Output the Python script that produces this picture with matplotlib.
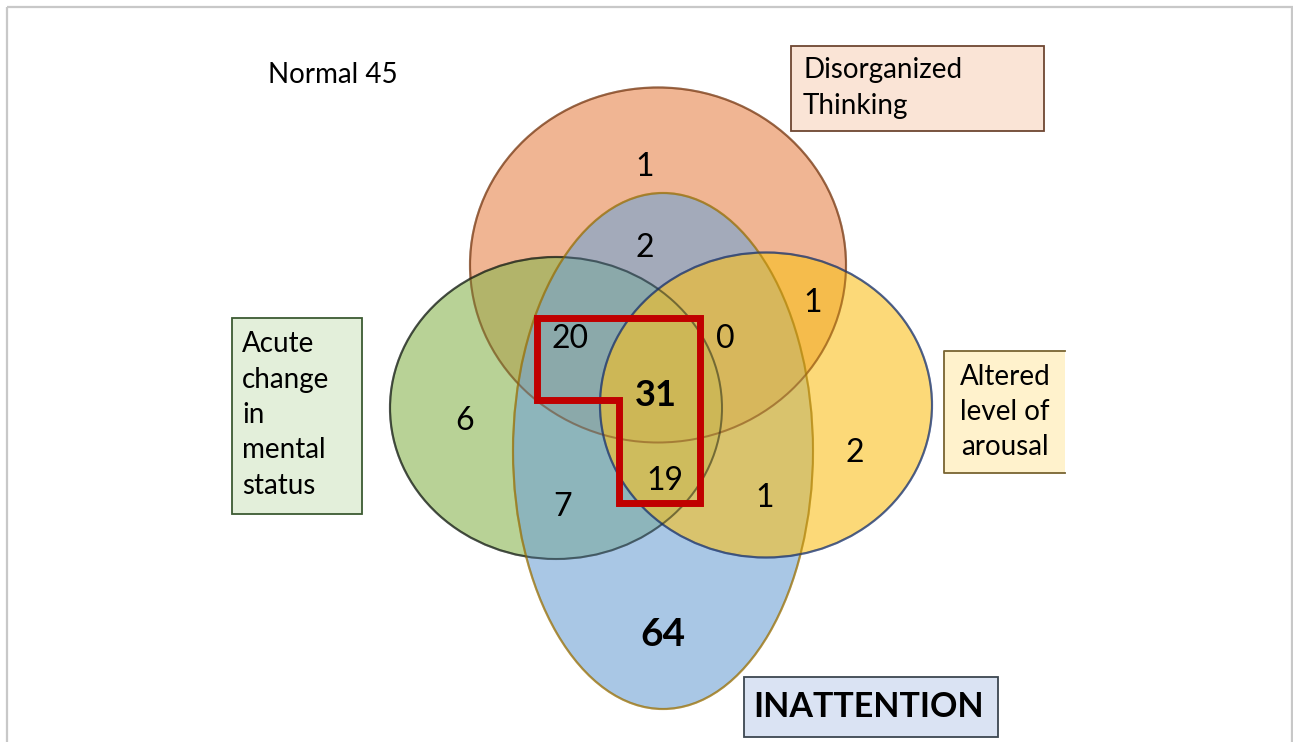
import matplotlib.pyplot as plt
from matplotlib.patches import Ellipse, Rectangle, Polygon

# sets (CAM-ICU features)
set_names = ['Disorganized\nThinking', 'Acute\nchange\nin\nmental\nstatus',
             'Altered\nlevel of\narousal', 'INATTENTION']
set_keys = ['DT', 'AC', 'AL', 'IN']

# region counts
region_keys = ['DT', 'DT&IN', 'DT&AL', 'AC&DT&IN', 'DT&AL&IN', 'AC&DT&AL&IN',
               'AC', 'AL', 'AC&AL&IN', 'AC&IN', 'AL&IN', 'IN']
region_counts = [1, 2, 1, 20, 0, 31, 6, 2, 19, 7, 1, 64]
bold_regions = ['AC&DT&AL&IN', 'IN']
normal_count = 45

# layout (pixel coordinates, y down)
ellipses = {
    'DT': dict(xy=(658, 265), w=376, h=355, fc='#e7844b', ec='#7a3c16'),
    'AC': dict(xy=(556, 408), w=332, h=302, fc='#8ab450', ec='#141c14'),
    'IN': dict(xy=(663, 451), w=300, h=516, fc='#71a3d5', ec='#9a720a'),
    'AL': dict(xy=(766, 405), w=332, h=305, fc='#fac11e', ec='#1a3470'),
}
draw_order = ['DT', 'AC', 'IN', 'AL']
region_pos = {
    'DT': (645, 167), 'DT&IN': (645, 248), 'DT&AL': (813, 303),
    'AC&DT&IN': (570, 339), 'DT&AL&IN': (725, 339), 'AC&DT&AL&IN': (656, 396),
    'AC': (465, 421), 'AL': (855, 453), 'AC&AL&IN': (665, 481),
    'AC&IN': (563, 507), 'AL&IN': (765, 498), 'IN': (663, 634),
}
highlight = [(537, 318), (700, 318), (700, 503), (619, 503), (619, 400), (537, 400)]

plt.rcParams['font.family'] = ['Lato', 'DejaVu Sans']

fig = plt.figure(figsize=(12.93, 7.42), dpi=100)
ax = fig.add_axes([0, 0, 1, 1])
ax.set_xlim(0, 1293)
ax.set_ylim(742, 0)
ax.axis('off')

# outer frame
ax.add_patch(Rectangle((7, 7), 1285, 760, fill=False, ec='#c8c8c8', lw=1.6))

for k in draw_order:
    e = ellipses[k]
    ax.add_patch(Ellipse(e['xy'], e['w'], e['h'], fc=e['fc'], ec=e['ec'],
                         alpha=0.6, lw=1.6))
# faded outlines seen through the fills
for k in draw_order:
    e = ellipses[k]
    ax.add_patch(Ellipse(e['xy'], e['w'], e['h'], fill=False, ec=e['ec'],
                         alpha=0.45, lw=1.4))

ax.add_patch(Polygon(highlight, closed=True, fill=False, ec='#c00000',
                     lw=5.0, joinstyle='miter'))

for key, n in zip(region_keys, region_counts):
    x, y = region_pos[key]
    if key == 'IN':
        size = 28
    elif key in bold_regions:
        size = 26
    else:
        size = 23
    ax.text(x, y, str(n), ha='center', va='center', fontsize=size,
            fontweight='bold' if key in bold_regions else 'normal', color='black')

ax.text(268, 75, 'Normal %d' % normal_count, ha='left', va='center', fontsize=20)

# label boxes
ax.add_patch(Rectangle((791, 46), 253, 85, fc='#fae4d6', ec='#6e4632', lw=1.3))
ax.text(803, 88, set_names[0], ha='left', va='center', fontsize=20,
        linespacing=1.45)

ax.add_patch(Rectangle((232, 318), 130, 196, fc='#e3efda', ec='#3c5a32', lw=1.3))
ax.text(242, 415, set_names[1], ha='left', va='center', fontsize=20,
        linespacing=1.45)

ax.add_patch(Rectangle((944, 351), 121, 122, fc='#fff2cc', ec='none'))
ax.plot([1065, 944, 944, 1065], [351, 351, 473, 473], color='#786432', lw=1.3)
ax.text(1005, 412, set_names[2], ha='center', va='center', fontsize=20,
        linespacing=1.45)

ax.add_patch(Rectangle((744, 677), 254, 60, fc='#dae3f3', ec='#3c4650', lw=1.3))
ax.text(869, 707, set_names[3], ha='center', va='center', fontsize=24.5,
        fontweight='bold')

fig.savefig('out.png', dpi=100)
